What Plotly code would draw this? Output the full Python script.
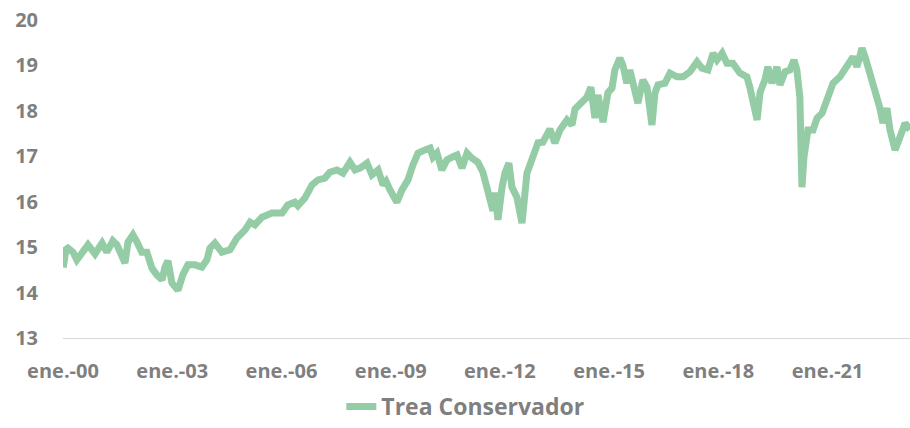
import plotly.graph_objects as go

dates = [
    "2000-01-03", "2000-01-11", "2000-01-31", "2000-02-20", "2000-04-10", "2000-05-19", "2000-06-19",
    "2000-09-08", "2000-11-17", "2001-01-27", "2001-03-16", "2001-05-15", "2001-06-25", "2001-07-25",
    "2001-09-14", "2001-10-14", "2001-12-03", "2002-01-13", "2002-03-02", "2002-04-21", "2002-06-11",
    "2002-07-30", "2002-09-20", "2002-10-20", "2002-11-19", "2002-12-29", "2003-01-29", "2003-02-28",
    "2003-04-17", "2003-06-07", "2003-08-16", "2003-10-25", "2003-12-15", "2004-01-15", "2004-03-04",
    "2004-05-13", "2004-08-02", "2004-10-11", "2005-01-01", "2005-02-20", "2005-04-10", "2005-06-19",
    "2005-09-28", "2006-01-07", "2006-03-06", "2006-05-15", "2006-06-15", "2006-08-24", "2006-11-03",
    "2007-01-03", "2007-03-12", "2007-05-01", "2007-07-11", "2007-09-10", "2007-11-19", "2008-01-09",
    "2008-02-28", "2008-05-08", "2008-06-27", "2008-08-27", "2008-10-16", "2008-11-15", "2008-12-25",
    "2009-01-25", "2009-03-04", "2009-04-24", "2009-06-23", "2009-08-12", "2009-10-02", "2009-12-11",
    "2010-01-31", "2010-03-01", "2010-04-10", "2010-05-29", "2010-07-19", "2010-09-08", "2010-10-28",
    "2010-12-17", "2011-02-06", "2011-03-26", "2011-05-25", "2011-07-15", "2011-08-24", "2011-09-24",
    "2011-10-24", "2011-11-13", "2011-12-13", "2012-01-23", "2012-02-21", "2012-04-01", "2012-05-01",
    "2012-06-20", "2012-07-20", "2012-08-10", "2012-09-29", "2012-11-19", "2013-01-18", "2013-03-08",
    "2013-05-17", "2013-07-06", "2013-08-26", "2013-11-05", "2013-12-25", "2014-01-24", "2014-04-13",
    "2014-05-23", "2014-07-02", "2014-08-12", "2014-09-11", "2014-11-01", "2014-12-20", "2015-01-30",
    "2015-02-28", "2015-04-19", "2015-05-19", "2015-06-28", "2015-07-28", "2015-09-17", "2015-10-17",
    "2015-12-06", "2016-01-16", "2016-03-06", "2016-04-05", "2016-05-05", "2016-07-14", "2016-09-03",
    "2016-11-13", "2017-01-12", "2017-03-22", "2017-06-01", "2017-07-20", "2017-09-19", "2017-11-09",
    "2017-12-19", "2018-02-08", "2018-03-28", "2018-05-27", "2018-08-06", "2018-10-15", "2018-11-15",
    "2018-12-15", "2019-01-25", "2019-02-24", "2019-04-13", "2019-05-13", "2019-06-23", "2019-08-12",
    "2019-09-11", "2019-11-01", "2019-12-20", "2020-01-30", "2020-02-28", "2020-03-29", "2020-04-09",
    "2020-04-19", "2020-05-09", "2020-06-18", "2020-08-08", "2020-09-17", "2020-11-07", "2020-12-27",
    "2021-02-25", "2021-05-05", "2021-07-14", "2021-09-13", "2021-10-23", "2021-12-12", "2022-01-12",
    "2022-03-02", "2022-04-21", "2022-06-10", "2022-07-10", "2022-08-20", "2022-09-19", "2022-11-09",
    "2022-12-28", "2023-02-17", "2023-04-07",
]

trea_conservador = [
    14.55, 14.75, 14.95, 14.98, 14.89, 14.72, 14.83,
    15.05, 14.85, 15.09, 14.89, 15.14, 15.05, 14.87,
    14.65, 15.11, 15.27, 15.11, 14.89, 14.89, 14.54,
    14.39, 14.28, 14.56, 14.70, 14.21, 14.15, 14.05,
    14.39, 14.61, 14.61, 14.56, 14.72, 14.98, 15.09,
    14.89, 14.94, 15.20, 15.38, 15.55, 15.49, 15.66,
    15.75, 15.75, 15.93, 15.99, 15.91, 16.08, 16.37,
    16.48, 16.52, 16.65, 16.70, 16.63, 16.87, 16.70,
    16.74, 16.85, 16.59, 16.70, 16.37, 16.45, 16.26,
    16.10, 15.99, 16.26, 16.48, 16.81, 17.07, 17.14,
    17.18, 16.98, 17.07, 16.70, 16.92, 16.98, 17.03,
    16.74, 17.07, 16.96, 16.87, 16.65, 16.26, 16.10,
    15.80, 16.20, 15.60, 16.32, 16.63, 16.85, 16.32,
    16.10, 15.66, 15.53, 16.63, 16.92, 17.30, 17.31,
    17.60, 17.29, 17.58, 17.80, 17.69, 18.04, 18.18,
    18.30, 18.52, 17.84, 18.35, 17.75, 18.40, 18.50,
    18.90, 19.16, 19.01, 18.61, 18.90, 18.50, 18.17,
    18.68, 18.52, 17.69, 18.39, 18.57, 18.61, 18.83,
    18.75, 18.75, 18.86, 19.08, 18.94, 18.90, 19.27,
    19.12, 19.27, 19.05, 19.05, 18.83, 18.75, 18.50,
    18.24, 17.80, 18.41, 18.68, 18.97, 18.61, 18.97,
    18.57, 18.86, 18.90, 19.12, 18.90, 18.30, 16.85,
    16.32, 16.98, 17.58, 17.58, 17.84, 17.95, 18.30,
    18.61, 18.75, 18.97, 19.19, 18.97, 19.38, 19.19,
    18.83, 18.52, 18.06, 17.73, 18.06, 17.58, 17.14,
    17.42, 17.73, 17.58,
]

tick_dates = ["2000-01-01", "2003-01-01", "2006-01-01", "2009-01-01",
              "2012-01-01", "2015-01-01", "2018-01-01", "2021-01-01"]
tick_labels = ["ene.-00", "ene.-03", "ene.-06", "ene.-09",
               "ene.-12", "ene.-15", "ene.-18", "ene.-21"]
y_ticks = [13, 14, 15, 16, 17, 18, 19, 20]

GREEN = "#94CCA6"
GREY = "#7F7F7F"
FONT = "Open Sans"

fig = go.Figure()
fig.add_trace(go.Scatter(
    x=dates, y=trea_conservador, mode="lines", name="Trea Conservador",
    line=dict(color=GREEN, width=7), hoverinfo="skip",
))

fig.update_layout(
    width=910, height=428,
    margin=dict(l=63, r=0, t=20, b=90, autoexpand=False),
    paper_bgcolor="white", plot_bgcolor="white",
    font=dict(family=FONT, size=20, color=GREY, weight="bold"),
    showlegend=True,
    legend=dict(orientation="h", x=0.475, xanchor="center",
                yref="container", y=0, yanchor="bottom",
                font=dict(family=FONT, size=23, color=GREY, weight="bold"),
                bgcolor="rgba(0,0,0,0)"),
    xaxis=dict(
        type="date", range=["2000-01-01", "2023-04-08"],
        tickvals=tick_dates, ticktext=tick_labels,
        showgrid=False, zeroline=False, showline=True, linecolor="#D9D9D9", linewidth=1,
        ticks="", ticklabelstandoff=15,
        tickfont=dict(family=FONT, size=20, color=GREY, weight="bold"),
    ),
    yaxis=dict(
        range=[13, 20], tickvals=y_ticks,
        showgrid=False, zeroline=False, showline=False,
        ticks="", ticklabelstandoff=24,
        tickfont=dict(family=FONT, size=20, color=GREY, weight="bold"),
    ),
)

fig.write_html(
    "out.html",
    config={"displayModeBar": False},
    post_script="document.body.style.margin='0';document.body.style.overflow='hidden';",
)
